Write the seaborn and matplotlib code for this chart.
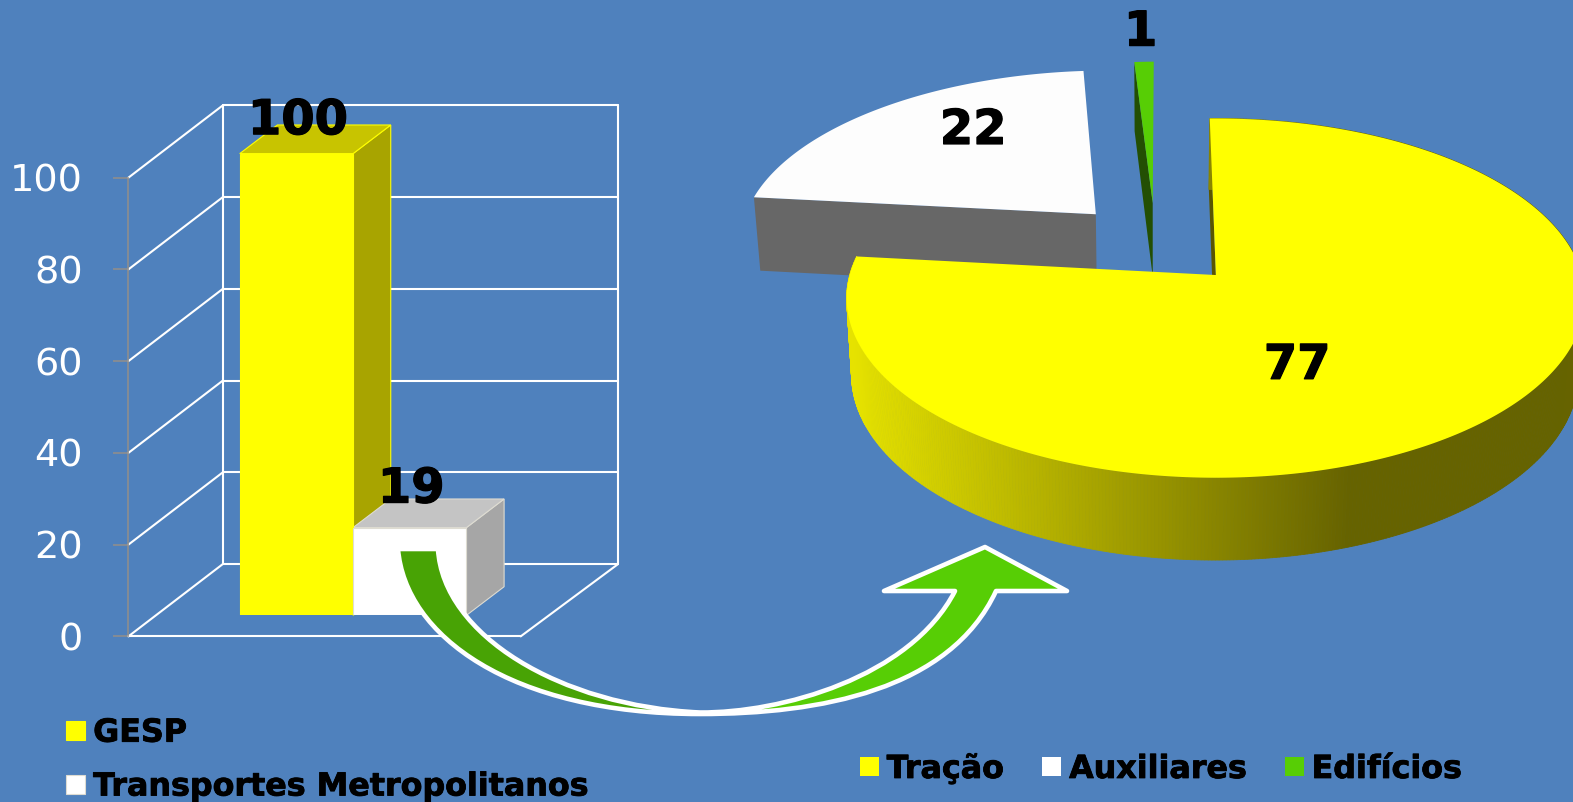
import numpy as np
import pandas as pd
import matplotlib
matplotlib.use("Agg")
import matplotlib.pyplot as plt
import matplotlib.patheffects as pe
import seaborn as sns
from matplotlib.colors import LinearSegmentedColormap
from matplotlib.patches import Patch, PathPatch, Polygon
from matplotlib.path import Path
from matplotlib.transforms import Affine2D, IdentityTransform

# Values
bar_names = ["GESP", "Transportes Metropolitanos"]
bar_values = [100, 19]
y_ticks = [0, 20, 40, 60, 80, 100]
pie_names = ["Tração", "Auxiliares", "Edifícios"]
pie_values = [77, 22, 1]

# Styles
BG = "#4F81BD"
YELLOW = "#FFFF00"
WHITE = "#FFFFFF"
GREEN = "#57CE05"
bar_colors = [YELLOW, WHITE]
bar_sides = ["#A8A400", "#A6A6A6"]
bar_tops = ["#C8C400", "#C4C4C4"]
bar_edges = [YELLOW, "#DEDCD2"]
bar_label_pad = [14, 18]
pie_tops = [YELLOW, "#FDFDFD", GREEN]
heavy = [pe.withStroke(linewidth=0.9, foreground="black")]

W, H = 1573, 802
BW, BH = 1568.0, 799.0        # layout space used for all placements
S = W / BW

sns.set_theme(style="white", rc={"figure.facecolor": BG, "savefig.facecolor": BG})
plt.rcParams["font.family"] = ["DejaVu Sans"]

fig = plt.figure(figsize=(W / 100, H / 100), dpi=100, facecolor=BG)


def add_axes_px(left, top, right, bottom, zorder):
    ax = fig.add_axes([left / BW, 1 - bottom / BH, (right - left) / BW, (bottom - top) / BH], zorder=zorder)
    ax.patch.set_visible(False)
    return ax


# ---------- value axis and wireframe walls ----------
ax_axis = add_axes_px(128, 177, 519, 634, 1)
ax_axis.set_xlim(0, 1)
ax_axis.set_ylim(0, 100)
ax_axis.set_xticks([])
ax_axis.set_yticks(y_ticks)
for name in ("top", "right", "bottom"):
    ax_axis.spines[name].set_visible(False)
ax_axis.spines["left"].set_color("#8E8E8E")
ax_axis.spines["left"].set_linewidth(1.2)
ax_axis.tick_params(axis="y", direction="out", length=10.8, width=1.2, color="#8E8E8E",
                    labelcolor="white", labelsize=27.5, pad=22, left=True)

depth_dx, depth_dy = 94 * S, 72 * S
wall_right = 1.0077
back = ax_axis.transData + Affine2D().translate(depth_dx, depth_dy)
line_kw = dict(color="white", lw=1.5, clip_on=False, solid_capstyle="round")


def depth_line(x, y):
    start = ax_axis.transData.transform((x, y))
    end = ax_axis.transData.transform((wall_right if x else 0, y)) + np.array([depth_dx, depth_dy])
    ax_axis.plot([start[0], end[0]], [start[1], end[1]], transform=IdentityTransform(), **line_kw)


for t in y_ticks:
    depth_line(0, t)
    ax_axis.plot([0, wall_right], [t, t], transform=back, **line_kw)
ax_axis.plot([wall_right, wall_right], [0, 100], transform=back, **line_kw)
ax_axis.plot([0, 0], [0, 100], transform=back, **line_kw)
ax_axis.plot([0, 1], [0, 0], **line_kw)
depth_line(1, 0)

# ---------- 3D bars ----------
ax_bars = add_axes_px(156.5, 153, 547.5, 613, 2)
frame = pd.DataFrame({"grupo": [""] * len(bar_values), "serie": bar_names, "valor": bar_values})
sns.barplot(data=frame, x="grupo", y="valor", hue="serie", hue_order=bar_names,
            palette=bar_colors, saturation=1, width=0.578, gap=0, legend=False, ax=ax_bars)
ax_bars.set_xlim(-0.5, 0.5)
ax_bars.set_ylim(0, 100)
ax_bars.axis("off")

bar_dx, bar_dy = 37.5 * S, 28.5 * S
bar_rects = [c[0] for c in ax_bars.containers]
for rect, value, side, top, edge, pad in zip(bar_rects, bar_values, bar_sides, bar_tops, bar_edges, bar_label_pad):
    x0, x1 = rect.get_x(), rect.get_x() + rect.get_width()
    rect.set_edgecolor(edge)
    rect.set_linewidth(0.8)
    rect.set_zorder(3)
    (ax, ay), (bx, by) = ax_bars.transData.transform([(x0, value), (x1, value)])
    (_, base) = ax_bars.transData.transform((x1, 0))
    side_pts = np.array([(bx, base), (bx, by), (bx + bar_dx, by + bar_dy), (bx + bar_dx, base + bar_dy)])
    top_pts = np.array([(ax, ay), (bx, by), (bx + bar_dx, by + bar_dy), (ax + bar_dx, ay + bar_dy)])
    for pts, color in ((side_pts, side), (top_pts, top)):
        ax_bars.add_patch(Polygon(pts, closed=True, facecolor=color, edgecolor=edge, linewidth=0.8,
                                  transform=IdentityTransform(), clip_on=False, zorder=2))
    ax_bars.annotate(str(value), xy=((x0 + x1) / 2, value), xytext=(1, pad), textcoords="offset points",
                     ha="center", va="baseline", fontsize=34.5, fontweight="bold", color="black",
                     annotation_clip=False, zorder=5, path_effects=heavy)

# ---------- overlay: exploded 3D pie ----------
ov = add_axes_px(0, 0, BW, BH, 3)
ov.set_xlim(0, BW)
ov.set_ylim(BH, 0)
ov.axis("off")

APEX = (1212.0, 274.0)
RX, RY, PERSP = 365.0, 176.0, 0.1285
START = -1.08
explode = [(0.0, 0.0), (-0.343, 0.36), (-0.182, 0.43)]


def project(theta_deg, radius, offset):
    th = np.radians(theta_deg)
    u = offset[0] + radius * np.sin(th)
    v = offset[1] + radius * np.cos(th)
    w = 1 + PERSP * v
    return np.column_stack([APEX[0] + RX * u / w, APEX[1] - RY * v / w])


def lower(points):
    pts = np.atleast_2d(points)
    x = pts[:, 0] + (1150 - pts[:, 0]) * 0.016
    y = pts[:, 1] + 73 + (pts[:, 1] - 192) * 9 / 284
    return np.column_stack([x, y])


edges = START + np.concatenate([[0], np.cumsum(pie_values)]) / np.sum(pie_values) * 360
arcs = [np.linspace(edges[i], edges[i + 1], max(8, int(pie_values[i] * 8))) for i in range(len(pie_values))]
apexes = [project(np.array([0.0]), 0.0, off) for off in explode]
outers = [project(a, 1.0, off) for a, off in zip(arcs, explode)]


def radial_face(i, end, color, z):
    outer = outers[i][end][None, :]
    pts = np.vstack([apexes[i], outer, lower(outer), lower(apexes[i])])
    ov.add_patch(Polygon(pts, closed=True, facecolor=color, edgecolor="none", zorder=z))


radial_face(1, 0, "#676767", 1)     # cut face of the detached slice
radial_face(2, 0, "#234F03", 2)     # cut face of the thin slice
radial_face(0, 0, "#5A5600", 3)     # start face of the large slice

# gradient rim of the large slice, back to front
rim_cmap = LinearSegmentedColormap.from_list("rim", ["#E6E200", "#666300"])
rim_top = project(np.linspace(edges[0], edges[1], 560), 1.0, explode[0])
rim_low = lower(rim_top)
order = np.argsort(rim_top[:-1, 1])
for k in order:
    quad = np.array([rim_top[k], rim_top[k + 1], rim_low[k + 1], rim_low[k]])
    shade = np.clip((quad[:, 0].mean() - 851) / (1345 - 851), 0, 1)
    col = rim_cmap(shade)
    ov.add_patch(Polygon(quad, closed=True, facecolor=col, edgecolor=col, linewidth=0.6, zorder=4))

for i in (1, 2, 0):
    pts = np.vstack([apexes[i], outers[i]])
    ov.add_patch(Polygon(pts, closed=True, facecolor=pie_tops[i], edgecolor="none",
                         zorder=2.5 if i == 1 else (3 if i == 2 else 5)))

pie_label_pos = [(1293, 359), (970, 125), (1137, 27)]
for value, (lx, ly) in zip(pie_values, pie_label_pos):
    ov.text(lx, ly, str(value), ha="center", va="center_baseline", fontsize=34.5, fontweight="bold",
            color="black", zorder=6, path_effects=heavy)

# ---------- curved arrow between the charts (output pixel space) ----------
to_px = Affine2D().scale(1, -1).translate(0, H)
M, C = Path.MOVETO, Path.CURVE4
L, Z = Path.LINETO, Path.CLOSEPOLY
outer_left = [(405, 635), (510, 714), (700, 714)]
outer_right = [(820, 714), (950, 690), (996, 591)]
head = [(1067, 591), (985, 547), (884, 591), (955, 591)]
inner_right = [(910, 678), (780, 713), (700, 712.5)]
inner_left = [(560, 706), (443, 635), (438, 549)]
tail = (398, 549)

left_half = Path([tail] + outer_left + inner_left + [tail, tail], [M, C, C, C, C, C, C, L, Z])
right_half = Path([(700, 714)] + outer_right + head + inner_right + [(700, 714)],
                  [M, C, C, C, L, L, L, L, C, C, C, Z])
outline = Path([tail] + outer_left + outer_right + head + inner_right + inner_left + [tail, tail],
               [M, C, C, C, C, C, C, L, L, L, L, C, C, C, C, C, C, L, Z])
ov.add_patch(PathPatch(left_half, facecolor="#48A305", edgecolor="none", zorder=7, transform=to_px))
ov.add_patch(PathPatch(right_half, facecolor=GREEN, edgecolor="none", zorder=7, transform=to_px))
ov.add_patch(PathPatch(outline, facecolor="none", edgecolor="white", linewidth=3.3,
                       joinstyle="round", zorder=8, transform=to_px))

# ---------- legends ----------
legend_kw = dict(frameon=False, handlelength=0.6, handleheight=0.53, handletextpad=0.25,
                 prop={"weight": "bold", "size": 22.85}, labelcolor="black", borderpad=0, borderaxespad=0)
left_handles = [Patch(facecolor=c, edgecolor=e, linewidth=0.8, label=n)
                for c, e, n in zip(bar_colors, bar_edges, bar_names)]
leg_left = ov.legend(handles=left_handles, loc="upper left", bbox_to_anchor=(66 / BW, 1 - 715 / BH),
                     labelspacing=0.72, ncol=1, **legend_kw)
ov.add_artist(leg_left)
right_handles = [Patch(facecolor=c, edgecolor="none", label=n) for c, n in zip([YELLOW, WHITE, GREEN], pie_names)]
leg_right = ov.legend(handles=right_handles, loc="upper left", bbox_to_anchor=(857 / BW, 1 - 750 / BH),
                      ncol=3, columnspacing=1.2, **legend_kw)
for legend in (leg_left, leg_right):
    for label in legend.get_texts():
        label.set_path_effects([pe.withStroke(linewidth=0.6, foreground="black")])

fig.savefig("out.png", dpi=100, facecolor=BG)
